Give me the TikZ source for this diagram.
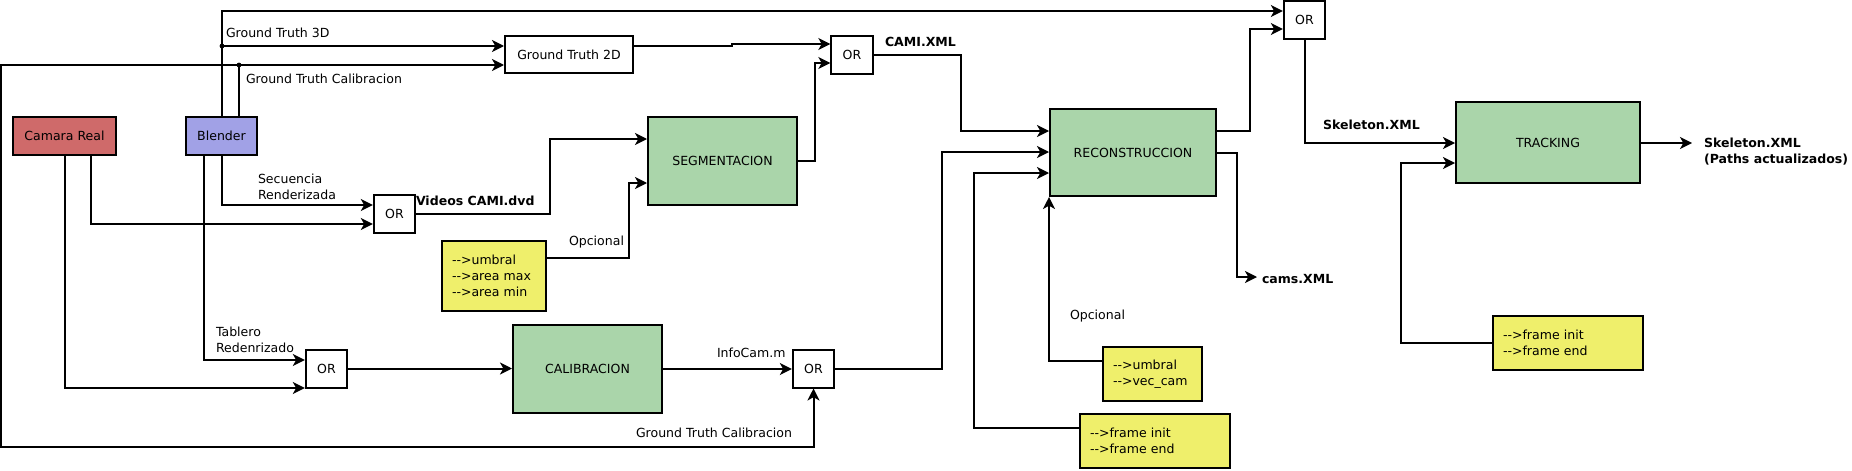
\documentclass[tikz,border=0pt]{standalone}
\usepackage{fontspec}
\setmainfont{DejaVu Sans}
\usetikzlibrary{arrows.meta}
\definecolor{camred}{RGB}{207,106,106}
\definecolor{blendblue}{RGB}{161,161,230}
\definecolor{procgreen}{RGB}{170,213,170}
\definecolor{noteyellow}{RGB}{239,239,107}
\begin{document}
\begin{tikzpicture}[x=0.75pt,y=-0.75pt,
  line width=1.5pt,
  every node/.style={font=\fontsize{9.4}{12}\selectfont},
  box/.style={draw=black,line width=1.5pt,inner sep=0pt,align=center},
  orbox/.style={box,fill=white,minimum width=31pt,minimum height=28.5pt},
  proc/.style={box,fill=procgreen,minimum width=111.75pt,minimum height=66pt},
  note/.style={box,fill=noteyellow,align=left,inner xsep=7.5pt,inner ysep=0pt,minimum height=40.5pt},
  lbl/.style={anchor=west,inner sep=0pt,outer sep=0pt,align=left},
  blbl/.style={lbl,font=\fontsize{9.4}{12}\selectfont\bfseries},
  arr/.style={-{Stealth[length=9pt,width=9pt,inset=2.5pt]},line width=1.5pt},
  dot/.style={fill=black}
]
\useasboundingbox (0,0) rectangle (1852,471);

% boxes
\node[box,fill=camred,minimum width=77.25pt,minimum height=28.5pt] (cam) at (64.5,136) {Camara Real};
\node[box,fill=blendblue,minimum width=53.25pt,minimum height=28.5pt] (blender) at (221.5,136) {Blender};
\node[box,fill=white,minimum width=96pt,minimum height=27.75pt] (gt2d) at (569,54.5) {Ground Truth 2D};
\node[orbox] (or1) at (394.5,214) {OR};
\node[orbox] (or2) at (326.5,368.5) {OR};
\node[orbox] (or3) at (852,54.5) {OR};
\node[orbox] (or4) at (813.5,368.5) {OR};
\node[orbox] (or5) at (1304.5,20) {OR};
\node[proc] (seg) at (722.5,161) {SEGMENTACION};
\node[proc] (calib) at (587.5,369) {CALIBRACION};
\node[proc,minimum width=124.5pt,minimum height=65.25pt] (recon) at (1133,152.5) {RECONSTRUCCION};
\node[proc,minimum width=138pt,minimum height=60.75pt] (track) at (1548,142.5) {TRACKING};
\node[note,text width=63pt,minimum height=52.5pt] (y1) at (494,276) {-{}->umbral\\-{}->area max\\-{}->area min};
\node[note,text width=59.25pt] (y2) at (1152.5,374) {-{}->umbral\\-{}->vec\_cam};
\node[note,text width=97.5pt] (y3) at (1155,441) {-{}->frame init\\-{}->frame end};
\node[note,text width=97.5pt] (y4) at (1568,343) {-{}->frame init\\-{}->frame end};

% labels
\node[lbl] (lgt3d) at (226,33) {Ground Truth 3D};
\node[lbl] (lgtc1) at (246,79) {Ground Truth Calibracion};
\node[lbl] (lsec) at (258,187) {Secuencia\\Renderizada};
\node[blbl] (lvid) at (416,201) {Videos CAMI.dvd};
\node[lbl] (lop1) at (569,242) {Opcional};
\node[lbl] (ltab) at (216,339.5) {Tablero\\Redenrizado};
\node[lbl] (linfo) at (717,353) {InfoCam.m};
\node[lbl] (lgtc2) at (636,433) {Ground Truth Calibracion};
\node[blbl] (lcami) at (885,42) {CAMI.XML};
\node[lbl] (lop2) at (1070,316) {Opcional};
\node[blbl,inner xsep=3.75pt] (cams) at (1257,279) {cams.XML};
\node[blbl] (lskel) at (1323,125) {Skeleton.XML};
\node[blbl,inner xsep=9pt] (skout) at (1692,152) {Skeleton.XML\\(Paths actualizados)};

% junctions
\coordinate (j1) at (222,46);
\coordinate (j2) at (239,65);

% connectors
\draw[arr] (blender.north -| j1) |- (or5.west |- 0,11);
\draw[arr] (j1) -- (gt2d.west |- j1);
\draw (blender.north -| j2) -- (j2);
\draw[arr] (j2) -- (gt2d.west |- j2);
\draw[arr] (j2) -- (1,65) -- (1,447) -| (or4.south);
\fill[dot] (j1) circle (1.8pt);
\fill[dot] (j2) circle (1.8pt);

\draw[arr] (blender.south -| 222,0) |- (or1.west |- 0,205);
\draw[arr] (cam.south -| 91,0) |- (or1.west |- 0,224);
\draw[arr] (blender.south -| 204,0) |- (or2.west |- 0,360);
\draw[arr] (cam.south -| 65,0) |- (or2.west |- 0,388);

\draw[arr] (or1.east) -- (or1.east -| 550,0) |- (seg.west |- 0,139);
\draw[arr] (y1.east |- 0,258) -- (629,258) |- (seg.west |- 0,183);
\draw[arr] (gt2d.east |- 0,46) -- (732,46) -- (732,44) -- (or3.west |- 0,44);
\draw[arr] (seg.east) -- (seg.east -| 815,0) |- (or3.west |- 0,63);
\draw[arr] (or3.east) -- (or3.east -| 961,0) |- (recon.west |- 0,131);

\draw[arr] (or2.east) -- (calib.west |- or2.east);
\draw[arr] (calib.east) -- (or4.west |- calib.east);
\draw[arr] (or4.east) -- (or4.east -| 942,0) |- (recon.west |- 0,152);
\draw[arr] (y3.west |- 0,428) -- (974,428) |- (recon.west |- 0,173);
\draw[arr] (y2.west |- 0,361) -| (recon.south west);

\draw[arr] (recon.east |- 0,131) -- (1250,131) |- (or5.west |- 0,29);
\draw[arr] (recon.east) -| (1237,277) -- (cams.west |- 0,277);

\draw[arr] (or5.south) |- (track.west |- 0,143);
\draw[arr] (y4.west) -- (y4.west -| 1401,0) |- (track.west |- 0,163);
\draw[arr] (track.east |- 0,143) -- (skout.west |- 0,143);
\end{tikzpicture}
\end{document}
